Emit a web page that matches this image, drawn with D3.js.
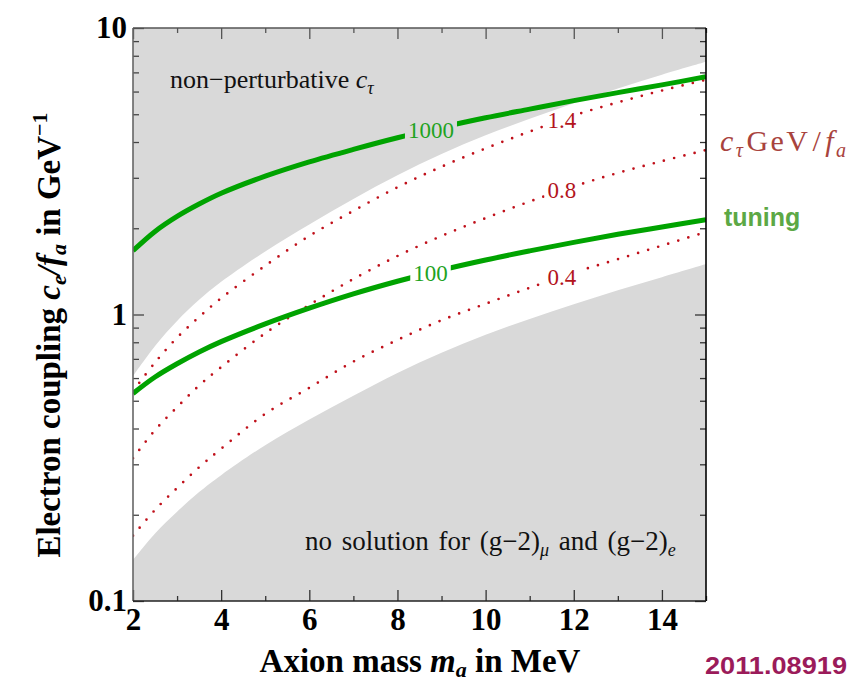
<!DOCTYPE html>
<html>
<head>
<meta charset="utf-8">
<script src="https://cdn.jsdelivr.net/npm/d3@7"></script>
<style>
body { margin: 0; background: #fff; }
svg { display: block; }
</style>
</head>
<body>
<svg id="chart" width="854" height="682"></svg>
<script>
// axis ticks
var massTicks = [2, 4, 6, 8, 10, 12, 14];
var massMinor = [3, 5, 7, 9, 11, 13, 15];
var couplingTicks = [0.1, 1, 10];
var couplingMinor = [0.2, 0.3, 0.4, 0.5, 0.6, 0.7, 0.8, 0.9, 2, 3, 4, 5, 6, 7, 8, 9];

// axion mass in MeV
var mass = [2, 2.5, 3, 3.5, 4, 5, 6, 7, 8, 9, 10, 11, 12, 13, 14, 15];

// shaded region edges (c_e/f_a in 1/GeV)
var nonPertEdge    = [0.61, 0.777, 0.95, 1.125, 1.30, 1.66, 2.06, 2.53, 3.06, 3.63, 4.22, 4.82, 5.46, 6.15, 6.87, 7.62];
var noSolutionEdge = [0.139, 0.172, 0.205, 0.240, 0.275, 0.35, 0.43, 0.52, 0.625, 0.735, 0.85, 0.965, 1.085, 1.215, 1.35, 1.50];

// tuning contours
var tuning1000 = [1.67, 1.95, 2.20, 2.43, 2.65, 3.04, 3.41, 3.77, 4.14, 4.50, 4.86, 5.21, 5.58, 5.95, 6.33, 6.76];
var tuning100  = [0.53, 0.605, 0.673, 0.74, 0.804, 0.927, 1.052, 1.18, 1.306, 1.43, 1.55, 1.667, 1.786, 1.905, 2.02, 2.14];

// c_tau GeV / f_a contours
var ctau14 = [0.54, 0.68, 0.83, 0.98, 1.14, 1.48, 1.88, 2.30, 2.78, 3.28, 3.80, 4.35, 4.95, 5.50, 6.05, 6.60];
var ctau08 = [0.315, 0.395, 0.475, 0.565, 0.655, 0.86, 1.08, 1.33, 1.60, 1.88, 2.17, 2.48, 2.80, 3.12, 3.43, 3.75];
var ctau04 = [0.169, 0.208, 0.248, 0.293, 0.34, 0.45, 0.555, 0.685, 0.815, 0.955, 1.09, 1.24, 1.40, 1.56, 1.74, 1.94];

var tuningNames = ["1000", "100"];
var tuningLabelMass = [8.76, 8.75];
var ctauNames = ["1.4", "0.8", "0.4"];
var ctauLabelMass = [11.73, 11.73, 11.73];

var svg = d3.select("#chart");
var margin = {top: 28, right: 148, bottom: 81, left: 133};
var width = +svg.attr("width") - margin.left - margin.right;
var height = +svg.attr("height") - margin.top - margin.bottom;
var g = svg.append("g").attr("transform", "translate(" + margin.left + "," + margin.top + ")");

var serif = "'Liberation Serif', 'Times New Roman', serif";
var sans = "'Liberation Sans', Arial, sans-serif";
var smooth = d3.curveCatmullRom.alpha(0.5);

var x = d3.scaleLinear().domain([2, 15]).range([0, width]);
var y = d3.scaleLog().domain([0.1, 10]).range([height, 0]);

var defs = svg.append("defs");
defs.append("clipPath").attr("id", "plotclip")
  .append("rect").attr("width", width).attr("height", height);

// background + shaded regions
g.append("rect").attr("width", width).attr("height", height).attr("fill", "#fff");

var regions = g.append("g").attr("clip-path", "url(#plotclip)");
regions.append("path")
  .datum(mass)
  .attr("fill", "#d9d9d9")
  .attr("d", d3.area()
    .x((d) => x(d))
    .y0((d, i) => y(nonPertEdge[i]))
    .y1(-5)
    .curve(smooth));
regions.append("path")
  .datum(mass)
  .attr("fill", "#d9d9d9")
  .attr("d", d3.area()
    .x((d) => x(d))
    .y0(height + 5)
    .y1((d, i) => y(noSolutionEdge[i]))
    .curve(smooth));

// curve labels first, so the lines can be masked around them
function yAt(series, m) {
  return d3.scaleLinear().domain(mass).range(series.map((v) => y(v)))(m);
}

var labels = g.append("g");

function addLabel(text, series, m, color, gaps) {
  var t = labels.append("text")
    .attr("x", x(m))
    .attr("y", yAt(series, m))
    .attr("dy", "0.34em")
    .attr("text-anchor", "middle")
    .attr("font-family", serif)
    .attr("font-size", 23)
    .attr("fill", color)
    .text(text);
  var b = t.node().getBBox();
  gaps.push({x: b.x - 3, y: b.y - 4, w: b.width + 6, h: b.height + 8});
}

var tuningGaps = [];
var ctauGaps = [];
[tuning1000, tuning100].forEach(function(s, i) {
  addLabel(tuningNames[i], s, tuningLabelMass[i], "#1fa31f", tuningGaps);
});
[ctau14, ctau08, ctau04].forEach(function(s, i) {
  addLabel(ctauNames[i], s, ctauLabelMass[i], "#b3141c", ctauGaps);
});

function makeMask(id, gaps) {
  var mask = defs.append("mask").attr("id", id)
    .attr("maskUnits", "userSpaceOnUse")
    .attr("x", -margin.left).attr("y", -margin.top)
    .attr("width", 854).attr("height", 682);
  mask.append("rect")
    .attr("x", -margin.left).attr("y", -margin.top)
    .attr("width", 854).attr("height", 682)
    .attr("fill", "#fff");
  mask.selectAll(".gap")
    .data(gaps)
    .enter().append("rect")
      .attr("x", (d) => d.x)
      .attr("y", (d) => d.y)
      .attr("width", (d) => d.w)
      .attr("height", (d) => d.h)
      .attr("fill", "#000");
}
makeMask("tuningmask", tuningGaps);
makeMask("ctaumask", ctauGaps);

var curves = g.append("g").attr("clip-path", "url(#plotclip)");
var ctauGroup = curves.append("g").attr("mask", "url(#ctaumask)");
var tuningGroup = curves.append("g").attr("mask", "url(#tuningmask)");

function line(series) {
  return d3.line()
    .x((d) => x(d))
    .y((d, i) => y(series[i]))
    .curve(smooth)(mass);
}

[ctau14, ctau08, ctau04].forEach(function(s) {
  ctauGroup.append("path")
    .attr("d", line(s))
    .attr("fill", "none")
    .attr("stroke", "#c0101a")
    .attr("stroke-width", 2.7)
    .attr("stroke-linecap", "round")
    .attr("stroke-dasharray", "0 10.5");
});
[tuning1000, tuning100].forEach(function(s) {
  tuningGroup.append("path")
    .attr("d", line(s))
    .attr("fill", "none")
    .attr("stroke", "#00a300")
    .attr("stroke-width", 5);
});

labels.raise();

// ticks on all four sides, pointing inward
function styleAxis(sel, stroke) {
  sel.select(".domain").remove();
  sel.selectAll(".tick line").attr("stroke", stroke).attr("stroke-width", 1.3);
  sel.selectAll("text")
    .attr("font-family", serif)
    .attr("font-weight", "bold")
    .attr("font-size", 31)
    .attr("fill", "#000");
}

g.append("g").attr("transform", "translate(0," + height + ")")
  .call(d3.axisBottom(x).tickValues(massTicks).tickSize(-11).tickPadding(7).tickFormat(d3.format("d")))
  .call(styleAxis, "#333");
g.append("g").attr("transform", "translate(0," + height + ")")
  .call(d3.axisBottom(x).tickValues(massMinor).tickSize(-5).tickFormat(""))
  .call(styleAxis, "#333");
g.append("g")
  .call(d3.axisTop(x).tickValues(massTicks).tickSize(-11).tickFormat(""))
  .call(styleAxis, "#555");
g.append("g")
  .call(d3.axisTop(x).tickValues(massMinor).tickSize(-5).tickFormat(""))
  .call(styleAxis, "#555");

g.append("g")
  .call(d3.axisLeft(y).tickValues(couplingTicks).tickSize(-11).tickPadding(6)
    .tickFormat((d) => d < 1 ? "0.1" : d3.format("d")(d)))
  .call(styleAxis, "#444");
g.append("g")
  .call(d3.axisLeft(y).tickValues(couplingMinor).tickSize(-6).tickFormat(""))
  .call(styleAxis, "#444");
g.append("g").attr("transform", "translate(" + width + ",0)")
  .call(d3.axisRight(y).tickValues(couplingTicks).tickSize(-11).tickFormat(""))
  .call(styleAxis, "#333");
g.append("g").attr("transform", "translate(" + width + ",0)")
  .call(d3.axisRight(y).tickValues(couplingMinor).tickSize(-6).tickFormat(""))
  .call(styleAxis, "#333");

// frame
g.append("line").attr("x1", 0).attr("x2", 0).attr("y1", 0).attr("y2", height)
  .attr("stroke", "#666").attr("stroke-width", 1.6);
g.append("line").attr("x1", 0).attr("x2", width).attr("y1", 0).attr("y2", 0)
  .attr("stroke", "#555").attr("stroke-width", 1.6);
g.append("line").attr("x1", width).attr("x2", width).attr("y1", 0).attr("y2", height)
  .attr("stroke", "#000").attr("stroke-width", 1.6);
g.append("line").attr("x1", 0).attr("x2", width).attr("y1", height).attr("y2", height)
  .attr("stroke", "#222").attr("stroke-width", 1.6);

// region texts
var t1 = g.append("text")
  .attr("x", 37).attr("y", 60)
  .attr("font-family", serif).attr("font-size", 26).attr("fill", "#111");
t1.append("tspan").text("non\u2212perturbative ");
t1.append("tspan").attr("font-style", "italic").text("c");
t1.append("tspan").attr("font-size", 18).attr("dy", 6).attr("font-style", "italic").text("\u03c4");

var t2 = g.append("text")
  .attr("x", 172).attr("y", 522)
  .attr("font-family", serif).attr("font-size", 27).attr("fill", "#111")
  .attr("word-spacing", 3);
t2.append("tspan").text("no solution for (g\u22122)");
t2.append("tspan").attr("font-size", 18).attr("dy", 6).attr("font-style", "italic").text("\u03bc");
t2.append("tspan").attr("dy", -6).text(" and (g\u22122)");
t2.append("tspan").attr("font-size", 18).attr("dy", 6).attr("font-style", "italic").text("e");

// axis titles
var xt = svg.append("text")
  .attr("x", 420).attr("y", 672)
  .attr("text-anchor", "middle")
  .attr("font-family", serif).attr("font-weight", "bold").attr("font-size", 33);
xt.append("tspan").text("Axion mass ");
xt.append("tspan").attr("font-style", "italic").text("m");
xt.append("tspan").attr("font-style", "italic").attr("font-size", 22).attr("dy", 5).text("a");
xt.append("tspan").attr("dy", -5).text(" in MeV");

var yt = svg.append("text")
  .attr("transform", "translate(60,335) rotate(-90)")
  .attr("text-anchor", "middle")
  .attr("font-family", serif).attr("font-weight", "bold").attr("font-size", 33);
yt.append("tspan").text("Electron coupling ");
yt.append("tspan").attr("font-style", "italic").text("c");
yt.append("tspan").attr("font-style", "italic").attr("font-size", 22).attr("dy", 6).text("e");
yt.append("tspan").attr("font-style", "italic").attr("dy", -6).text("/f");
yt.append("tspan").attr("font-style", "italic").attr("font-size", 22).attr("dy", 6).text("a");
yt.append("tspan").attr("dy", -6).text(" in GeV");
yt.append("tspan").attr("font-size", 22).attr("dy", -13).text("\u22121");

// right-hand annotations
var ct = svg.append("text")
  .attr("x", 720).attr("y", 151)
  .attr("font-family", serif).attr("font-size", 30).attr("fill", "#a8433d")
  .attr("textLength", 126).attr("lengthAdjust", "spacing");
ct.append("tspan").attr("font-style", "italic").text("c");
ct.append("tspan").attr("font-style", "italic").attr("font-size", 20).attr("dy", 6).text("\u03c4");
ct.append("tspan").attr("dy", -6).attr("dx", 1).text("GeV");
ct.append("tspan").attr("dx", 2).text("/");
ct.append("tspan").attr("dx", 2).attr("font-style", "italic").text("f");
ct.append("tspan").attr("font-style", "italic").attr("font-size", 20).attr("dy", 6).text("a");

svg.append("text")
  .attr("x", 724).attr("y", 226)
  .attr("font-family", sans).attr("font-weight", "bold").attr("font-size", 25)
  .attr("fill", "#5ca845")
  .text("tuning");

svg.append("text")
  .attr("x", 705).attr("y", 674)
  .attr("font-family", sans).attr("font-weight", "bold").attr("font-size", 23)
  .attr("fill", "#9b1b5a")
  .attr("textLength", 142).attr("lengthAdjust", "spacingAndGlyphs")
  .text("2011.08919");
</script>
</body>
</html>
